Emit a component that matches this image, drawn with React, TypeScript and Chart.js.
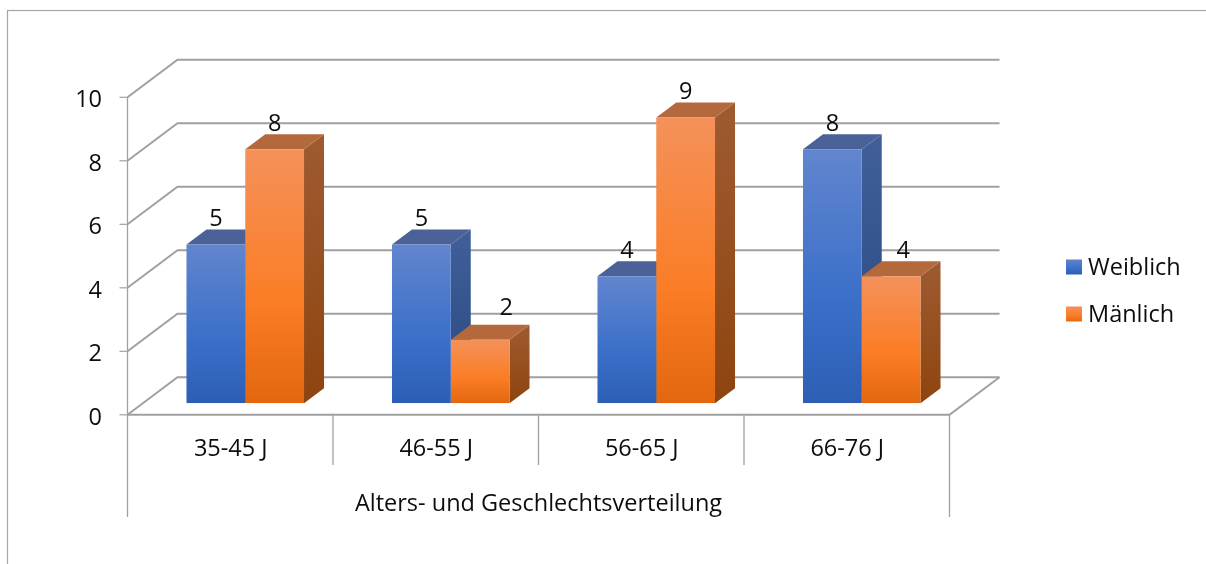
import React, { useEffect, useRef } from "react";
import { Chart, registerables } from "chart.js";

Chart.register(...registerables);

const categories = ["35-45 J", "46-55 J", "56-65 J", "66-76 J"];
const weiblich = [5, 5, 4, 8];
const maenlich = [8, 2, 9, 4];
const seriesNames = ["Weiblich", "Mänlich"];
const axisCaption = "Alters- und Geschlechtsverteilung";

const FONT = '"Open Sans", sans-serif';
const FONT_SIZE = 23.5;
const INK = "#0d0d0d";
const GRID = "#a0a0a0";

// Pseudo-3D projection: the bars stand on a plane inside the floor.
const BAR_DEPTH = { x: 20, y: 15 };
const FRONT_EDGE = { x: -15, y: 11.5 };
const BACK_WALL = { x: 35, y: -26 };

const palettes = [
  {
    front: ["#6285ce", "#3a6fc9", "#2d5eb4"],
    side: ["#41609b", "#27477f"],
    top: "#4a6298",
  },
  {
    front: ["#f4915a", "#fb7d25", "#e2670f"],
    side: ["#9e5b31", "#8e440f"],
    top: "#b4693c",
  },
];

// Hand-placed value labels, keyed "dataset:index".
const labelNudge: Record<string, number[]> = {
  "1:1": [26, -6],
  "1:3": [12, 0],
};

function frontGradient(ctx: CanvasRenderingContext2D, stops: string[], y0: number, y1: number) {
  const g = ctx.createLinearGradient(0, y0, 0, y1);
  g.addColorStop(0, stops[0]);
  g.addColorStop(0.6, stops[1]);
  g.addColorStop(1, stops[2]);
  return g;
}

function line(ctx: CanvasRenderingContext2D, pts: number[][]) {
  ctx.beginPath();
  pts.forEach(([x, y], i) => (i ? ctx.lineTo(x, y) : ctx.moveTo(x, y)));
  ctx.stroke();
}

function face(ctx: CanvasRenderingContext2D, pts: number[][], fill: string | CanvasGradient) {
  ctx.beginPath();
  pts.forEach(([x, y], i) => (i ? ctx.lineTo(x, y) : ctx.moveTo(x, y)));
  ctx.closePath();
  ctx.fillStyle = fill;
  ctx.fill();
}

const framePlugin = {
  id: "frame3d",
  beforeDatasetsDraw(chart: any) {
    const { ctx, scales } = chart;
    const { x: xs, y: ys } = scales;
    const left = xs.left;
    const right = xs.right;
    const fl = left + FRONT_EDGE.x;
    const fr = right + FRONT_EDGE.x;
    const bl = left + BACK_WALL.x;
    const br = right + BACK_WALL.x;
    ctx.save();

    // chart frame, running past the right and bottom edges of the canvas
    ctx.strokeStyle = "#a6a6a6";
    ctx.lineWidth = 1.2;
    ctx.strokeRect(7.5, 10.5, chart.width + 20, chart.height + 20);

    // wall grid lines with their diagonal returns
    ctx.strokeStyle = GRID;
    ctx.lineWidth = 2;
    ys.ticks.forEach((t: any) => {
      const py = ys.getPixelForValue(t.value);
      line(ctx, [
        [fl, py + FRONT_EDGE.y],
        [bl, py + BACK_WALL.y],
        [br, py + BACK_WALL.y],
      ]);
      ctx.save();
      ctx.lineWidth = 1.2;
      line(ctx, [
        [fl - 8, py + FRONT_EDGE.y],
        [fl, py + FRONT_EDGE.y],
      ]);
      ctx.restore();
    });

    // floor outline
    const y0 = ys.getPixelForValue(0);
    line(ctx, [
      [fl, y0 + FRONT_EDGE.y],
      [fr, y0 + FRONT_EDGE.y],
      [br, y0 + BACK_WALL.y],
    ]);

    // vertical axis and the two-level category separators
    ctx.lineWidth = 1.3;
    line(ctx, [
      [fl, ys.getPixelForValue(10) + FRONT_EDGE.y],
      [fl, 517],
    ]);
    line(ctx, [
      [fr, y0 + FRONT_EDGE.y],
      [fr, 517],
    ]);
    const step = (right - left) / categories.length;
    for (let i = 1; i < categories.length; i++) {
      const px = fl + step * i;
      line(ctx, [
        [px, y0 + FRONT_EDGE.y],
        [px, 465],
      ]);
    }

    // side and top faces of every bar, left series first so the right one overlaps it
    chart.data.datasets.forEach((_: any, di: number) => {
      const pal = palettes[di];
      chart.getDatasetMeta(di).data.forEach((bar: any) => {
        const r = bar.x + bar.width / 2;
        const l = bar.x - bar.width / 2;
        const d = BAR_DEPTH;
        const sideFill = ctx.createLinearGradient(0, bar.y - d.y, 0, bar.base);
        sideFill.addColorStop(0, pal.side[0]);
        sideFill.addColorStop(1, pal.side[1]);
        face(
          ctx,
          [
            [r, bar.y],
            [r + d.x, bar.y - d.y],
            [r + d.x, bar.base - d.y],
            [r, bar.base],
          ],
          sideFill
        );
        face(
          ctx,
          [
            [l, bar.y],
            [l + d.x, bar.y - d.y],
            [r + d.x, bar.y - d.y],
            [r, bar.y],
          ],
          pal.top
        );
      });
    });
    ctx.restore();
  },
  afterDatasetsDraw(chart: any) {
    const { ctx, scales } = chart;
    ctx.save();
    ctx.font = `${FONT_SIZE}px ${FONT}`;
    ctx.fillStyle = INK;
    ctx.textAlign = "center";
    ctx.textBaseline = "middle";

    // value labels
    chart.data.datasets.forEach((ds: any, di: number) => {
      chart.getDatasetMeta(di).data.forEach((bar: any, i: number) => {
        const n = labelNudge[`${di}:${i}`] || [0, 0];
        ctx.fillText(String(ds.data[i]), bar.x + n[0], bar.y - 25 + n[1]);
      });
    });

    // outer category caption
    const mid = (scales.x.left + scales.x.right) / 2 + FRONT_EDGE.x;
    ctx.fillText(axisCaption, mid, 504);

    // legend
    ctx.textAlign = "left";
    chart.data.datasets.forEach((ds: any, di: number) => {
      const cy = 267 + di * 47;
      ctx.fillStyle = frontGradient(ctx, palettes[di].front, cy - 8, cy + 8);
      ctx.fillRect(1066, cy - 7.5, 16, 15);
      ctx.fillStyle = INK;
      ctx.fillText(ds.label, 1088, cy + 1);
    });
    ctx.restore();
  },
};

export default function App() {
  const ref = useRef<HTMLCanvasElement>(null);

  useEffect(() => {
    const makeFill = (di: number) => (c: any) => {
      const ys = c.chart.scales.y;
      const top = c.parsed && ys ? ys.getPixelForValue(c.parsed.y) : NaN;
      const base = ys ? ys.getPixelForValue(0) : NaN;
      if (!Number.isFinite(top) || !Number.isFinite(base)) return palettes[di].front[1];
      return frontGradient(c.chart.ctx, palettes[di].front, top, base);
    };

    const chart = new Chart(ref.current as HTMLCanvasElement, {
      type: "bar",
      data: {
        labels: categories,
        datasets: [
          { label: seriesNames[0], data: weiblich, backgroundColor: makeFill(0) },
          { label: seriesNames[1], data: maenlich, backgroundColor: makeFill(1) },
        ],
      },
      plugins: [framePlugin],
      options: {
        responsive: false,
        animation: false,
        events: [],
        layout: { padding: { left: 0, top: 85.8, right: 241.5, bottom: 0 } },
        datasets: { bar: { categoryPercentage: 0.572, barPercentage: 1 } },
        plugins: { legend: { display: false }, tooltip: { enabled: false } },
        scales: {
          x: {
            afterFit: (s: any) => {
              s.height = 160.7;
            },
            grid: { display: false, drawTicks: false },
            border: { display: false },
            ticks: {
              labelOffset: FRONT_EDGE.x + 0.5,
              padding: 32,
              maxRotation: 0,
              autoSkip: false,
              color: INK,
              font: { family: FONT, size: FONT_SIZE },
            },
          },
          y: {
            min: 0,
            max: 10,
            afterFit: (s: any) => {
              s.width = 142.5;
            },
            grid: { display: false, drawTicks: false },
            border: { display: false },
            ticks: {
              stepSize: 2,
              labelOffset: FRONT_EDGE.y + 3.5,
              padding: 40.5,
              color: INK,
              font: { family: FONT, size: FONT_SIZE },
            },
          },
        },
      },
    } as any);
    return () => chart.destroy();
  }, []);

  return (
    <div style={{ position: "absolute", left: 0, top: 0, width: 1206, height: 564, background: "#fff" }}>
      <canvas ref={ref} width={1206} height={564} style={{ display: "block" }} />
    </div>
  );
}
